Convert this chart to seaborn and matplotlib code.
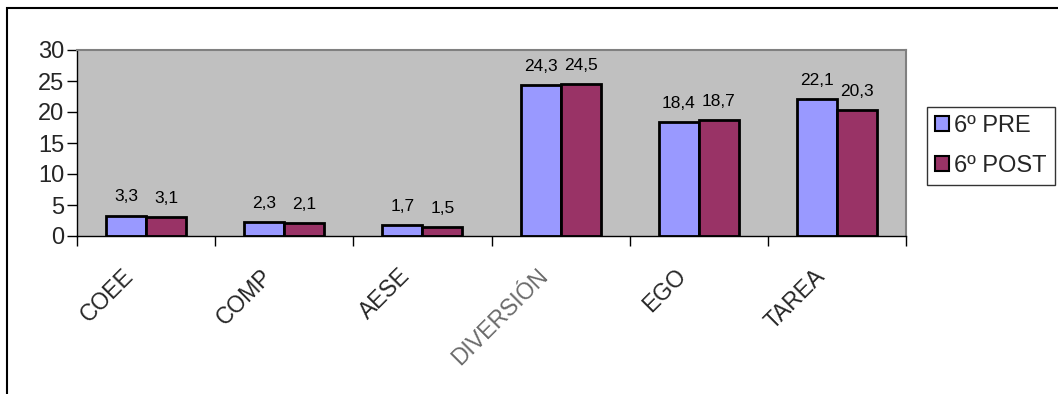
import numpy as np
import pandas as pd
import matplotlib
matplotlib.use("Agg")
import matplotlib.pyplot as plt
import matplotlib.transforms as mtransforms
import seaborn as sns
from matplotlib.patches import Rectangle, Patch

categories = ["COEE", "COMP", "AESE", "DIVERSIÓN", "EGO", "TAREA"]
series_names = ["6º PRE", "6º POST"]
pre_values = [3.3, 2.3, 1.7, 24.3, 18.4, 22.1]
post_values = [3.1, 2.1, 1.5, 24.5, 18.7, 20.3]
colors = ["#9999FF", "#993366"]

# long format for seaborn
data = pd.DataFrame({
    "cat": categories * 2,
    "grupo": [series_names[0]] * len(categories) + [series_names[1]] * len(categories),
    "valor": pre_values + post_values,
})

sns.set_style("white")
plt.rcParams["font.family"] = ["Liberation Sans", "DejaVu Sans"]

fig = plt.figure(figsize=(10.58, 3.94), dpi=100)
ax = fig.add_axes([77 / 1058, 1 - 236 / 394, 829 / 1058, 186 / 394])
ax.set_facecolor("#C0C0C0")

sns.barplot(data=data, x="cat", y="valor", hue="grupo", order=categories,
            hue_order=series_names, palette=colors, saturation=1, width=0.58, gap=0,
            edgecolor="black", linewidth=2, legend=False, ax=ax)

# value labels with decimal comma
for cont, vals in zip(ax.containers, [pre_values, post_values]):
    ax.bar_label(cont, labels=[f"{v:.1f}".replace(".", ",") for v in vals],
                 padding=8, fontsize=12.5, color="black")

ax.set_ylim(0, 30)
ax.set_yticks(range(0, 31, 5))
ax.set_xlim(-0.5, len(categories) - 0.5)

# tick marks at category boundaries, labels at centres
ax.set_xticks(np.arange(-0.5, len(categories), 1))
ax.set_xticklabels([])
ax.set_xticks(range(len(categories)), minor=True)
ax.set_xticklabels(categories, minor=True, rotation=45, ha="right",
                   rotation_mode="anchor", fontsize=16.5)
ax.tick_params(axis="x", which="minor", length=0, pad=20.5)
ax.tick_params(axis="x", which="major", length=7, width=1, color="black", direction="out")
ax.tick_params(axis="y", length=7, width=1, color="black", direction="out",
               labelsize=17, pad=2)
ax.xaxis.set_ticks_position("bottom")
ax.yaxis.set_ticks_position("left")
shift = mtransforms.ScaledTranslation(-24 / 100, 0, fig.dpi_scale_trans)
for lbl in ax.get_xticklabels(minor=True):
    lbl.set_transform(lbl.get_transform() + shift)
    if lbl.get_text() == "DIVERSIÓN":
        lbl.set_color("#6a6a6a")

ax.set_xlabel("")
ax.set_ylabel("")
ax.grid(False)
for side in ["top", "right"]:
    ax.spines[side].set_color("#808080")
    ax.spines[side].set_linewidth(1.5)
for side in ["left", "bottom"]:
    ax.spines[side].set_color("black")
    ax.spines[side].set_linewidth(1)

handles = [Patch(facecolor=c, edgecolor="black", linewidth=1.5) for c in colors]
leg = fig.legend(handles, series_names, loc="upper left",
                 bbox_to_anchor=(927 / 1058, 1 - 107 / 394), fontsize=17,
                 frameon=True, fancybox=False, handlelength=0.6, handleheight=0.6,
                 handletextpad=0.2, borderpad=0.35, labelspacing=0.75, borderaxespad=0)
leg.get_frame().set_edgecolor("black")
leg.get_frame().set_linewidth(1)

# outer chart border
fig.patches.append(Rectangle((7 / 1058, -0.1), 1.2, 1.1 - 8 / 394,
                             transform=fig.transFigure, fill=False,
                             edgecolor="black", linewidth=1.5))

fig.savefig("out.png", dpi=100)
